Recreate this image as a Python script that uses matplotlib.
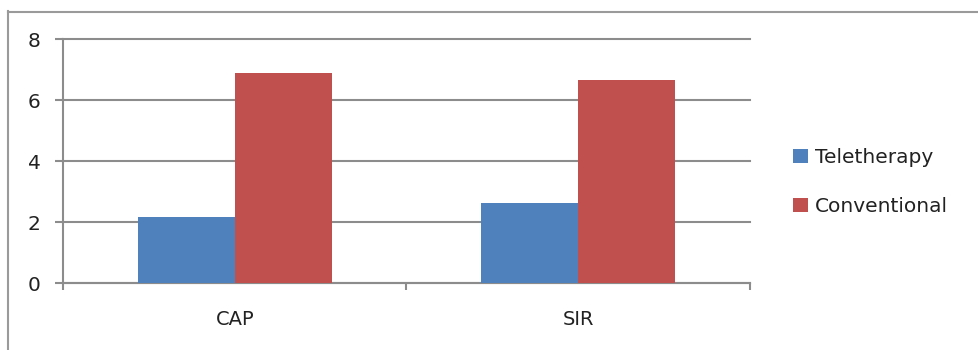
import matplotlib
matplotlib.use("Agg")
import matplotlib.pyplot as plt
from matplotlib.lines import Line2D
import numpy as np

categories = ["CAP", "SIR"]
series_names = ["Teletherapy", "Conventional"]
teletherapy = [2.16, 2.64]
conventional = [6.89, 6.67]
y_ticks = [0, 2, 4, 6, 8]

colors = ["#4F81BD", "#C0504D"]
grid_color = "#8C8C8C"
text_color = "#222222"

W, H = 979, 350
fig = plt.figure(figsize=(W / 100, H / 100), dpi=100)
ax = fig.add_axes([63 / W, 1 - 283.3 / H, (750 - 63) / W, (283.3 - 39.3) / H])

x = np.arange(len(categories))
bw = 0.283
b1 = ax.bar(x - bw / 2, teletherapy, bw, color=colors[0], label=series_names[0], zorder=3)
b2 = ax.bar(x + bw / 2, conventional, bw, color=colors[1], label=series_names[1], zorder=3)

ax.set_xlim(-0.5, len(categories) - 0.5)
ax.set_ylim(0, 8)
ax.set_yticks(y_ticks)
ax.set_yticklabels([str(v) for v in y_ticks])
ax.yaxis.grid(True, color=grid_color, linewidth=1.5, zorder=0)
for gl in ax.yaxis.get_gridlines():
    gl.set_clip_on(False)
ax.set_axisbelow(True)

ax.set_xticks(x)
ax.set_xticklabels(categories)
ax.set_xticks(np.arange(-0.5, len(categories)), minor=True)
ax.tick_params(axis="x", which="major", length=0, pad=19, labelsize=14, colors=text_color)
ax.tick_params(axis="x", which="minor", length=5, width=1.5, color=grid_color)
ax.tick_params(axis="y", length=6, width=1.5, color=grid_color, pad=10, labelsize=14.5,
               labelcolor=text_color)

for s in ["top", "right"]:
    ax.spines[s].set_visible(False)
for s in ["left", "bottom"]:
    ax.spines[s].set_color(grid_color)
    ax.spines[s].set_linewidth(1.5)

leg = fig.legend(handles=[b1, b2], labels=series_names, loc="center left",
                 bbox_to_anchor=(775 / W, 1 - 182 / H), frameon=False,
                 fontsize=14.5, labelspacing=1.45, handlelength=0.75, handleheight=0.7,
                 handletextpad=0.35, labelcolor=text_color)

# outer frame around the chart area
fig.add_artist(Line2D([8.5 / W, 8.5 / W], [0, 1 - 11 / H], transform=fig.transFigure,
                      color="#9A9A9A", linewidth=1.5))
fig.add_artist(Line2D([8 / W, 1], [1 - 11.5 / H, 1 - 11.5 / H], transform=fig.transFigure,
                      color="#9A9A9A", linewidth=1.5))

fig.savefig("out.png", dpi=100)
